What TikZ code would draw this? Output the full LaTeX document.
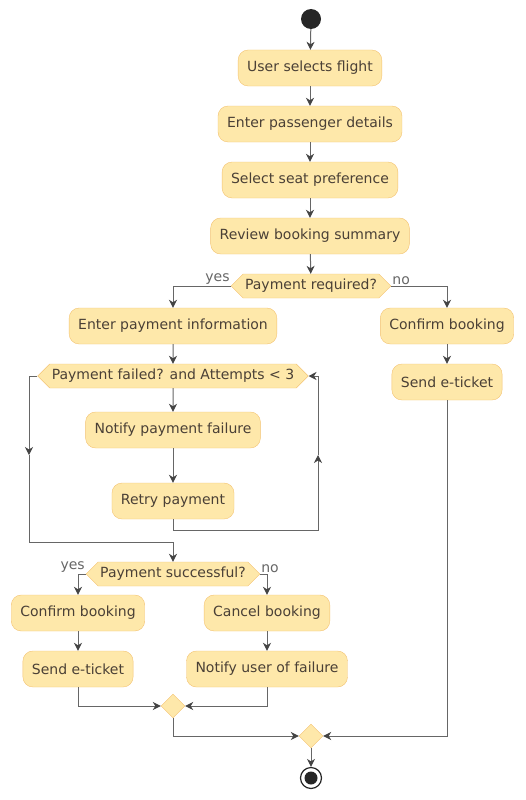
\documentclass[tikz,border=0pt]{standalone}
\usepackage{fontspec}
\setmainfont{DejaVu Sans}
\usetikzlibrary{arrows.meta,shapes.symbols,shapes.geometric}

\definecolor{actfill}{HTML}{FEE8AA}
\definecolor{actline}{HTML}{F3C270}
\definecolor{txt}{HTML}{4A4036}
\definecolor{wire}{HTML}{666666}
\definecolor{tip}{HTML}{444444}

\tikzset{
  act/.style={draw=actline,fill=actfill,rounded corners=10pt,minimum height=36pt,
    inner xsep=9pt,text=txt,font=\fontsize{14}{16}\selectfont},
  cond/.style={draw=actline,fill=actfill,shape=signal,signal to=west and east,
    signal pointer angle=90,minimum height=24pt,inner xsep=2pt,inner ysep=0pt,
    text=txt,font=\fontsize{14}{16}\selectfont},
  merge/.style={draw=actline,fill=actfill,diamond,minimum size=24pt,inner sep=0pt},
  flow/.style={draw=wire,line width=1pt,-{Stealth[length=8pt,width=8pt,inset=2.5pt,color=tip]}},
  lbl/.style={text=wire,font=\fontsize{14}{16}\selectfont,inner sep=1pt}
}

\begin{document}
\begin{tikzpicture}[x=1pt,y=-1pt]
\useasboundingbox (0,0) rectangle (525,800);

% main line
\node[circle,fill=black!85,minimum size=20pt,inner sep=0pt] (start) at (311,19) {};
\node[act] (select) at (310,68) {User selects flight};
\node[act] (passenger) at (310,124) {Enter passenger details};
\node[act] (seat) at (310,180) {Select seat preference};
\node[act] (review) at (310,236) {Review booking summary};
\node[cond] (required) at (311,286) {Payment required?};

% no payment needed
\node[act] (confirmA) at (447,326) {Confirm booking};
\node[act] (ticketA) at (447,382) {Send e-ticket};

% payment
\node[act] (payinfo) at (173,326) {Enter payment information};
\node[cond] (failed) at (173,376) {Payment failed? and Attempts < 3};
\node[act] (notify) at (173,430) {Notify payment failure};
\node[act] (retry) at (173,501) {Retry payment};
\node[cond] (success) at (173,574) {Payment successful?};
\node[act] (confirmB) at (78,613) {Confirm booking};
\node[act] (ticketB) at (78,669) {Send e-ticket};
\node[act] (cancel) at (267,613) {Cancel booking};
\node[act] (notifyuser) at (267,669) {Notify user of failure};

\node[merge] (mergeA) at (173,706) {};
\node[merge] (mergeB) at (311,736) {};
\node[circle,draw=black!85,line width=1.2pt,fill=white,minimum size=21pt,inner sep=0pt] (stop) at (311,778) {};
\node[circle,fill=black!85,minimum size=13pt,inner sep=0pt] at (stop) {};

\coordinate (loopR) at (318,530);
\coordinate (loopRm) at (318,455);
\coordinate (loopRt) at (318,376);
\coordinate (loopL) at (29,376);
\coordinate (loopLm) at (29,455);
\coordinate (loopLb) at (29,542);
\coordinate (loopLr) at (173,542);

\draw[flow] (start) -- (select);
\draw[flow] (select) -- (passenger);
\draw[flow] (passenger) -- (seat);
\draw[flow] (seat) -- (review);
\draw[flow] (review) -- (required);

\draw[flow] (required.west) -| (payinfo.north);
\node[lbl,anchor=south east] at (required.west) {yes};
\draw[flow] (required.east) -| (confirmA.north);
\node[lbl,anchor=south west] at (required.east) {no};
\draw[flow] (confirmA) -- (ticketA);
\draw[flow] (ticketA.south) |- (mergeB.east);

\draw[flow] (payinfo) -- (failed);
\draw[flow] (failed) -- (notify);
\draw[flow] (notify) -- (retry);
\draw[flow] (retry.south) |- (loopR) -- (loopRm);
\draw[flow] (loopRm) -- (loopRt) -- (failed.east);
\draw[flow] (failed.west) -- (loopL) -- (loopLm);
\draw[flow] (loopLm) -- (loopLb) -- (loopLr) -- (success.north);

\draw[flow] (success.west) -| (confirmB.north);
\node[lbl,anchor=south east] at (success.west) {yes};
\draw[flow] (success.east) -| (cancel.north);
\node[lbl,anchor=south west] at (success.east) {no};
\draw[flow] (confirmB) -- (ticketB);
\draw[flow] (cancel) -- (notifyuser);
\draw[flow] (ticketB.south) |- (mergeA.west);
\draw[flow] (notifyuser.south) |- (mergeA.east);

\draw[flow] (mergeA.south) |- (mergeB.west);
\draw[flow] (mergeB) -- (stop);
\end{tikzpicture}
\end{document}
